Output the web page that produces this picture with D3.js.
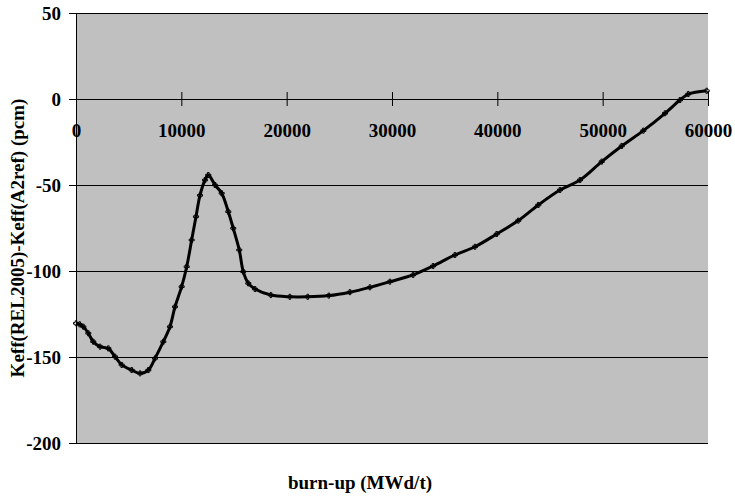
<!DOCTYPE html>
<html lang="en">
<head>
<meta charset="utf-8">
<title>Keff difference vs burn-up</title>
<style>
    body { margin: 0; background: #fff; }
    .tick text, .title { font-family: "Liberation Serif", "Times New Roman", serif; font-weight: bold; fill: #000; }
</style>
</head>
<body>
<script src="https://cdn.jsdelivr.net/npm/d3@7"></script>
<script>
    // burn-up (MWd/t) and difference (pcm)
    let burnup = [0, 350, 700, 1170, 1640, 2280, 3070, 3700, 4340, 5290, 6080, 6870, 7500, 8290, 8920,
        9400, 10030, 10510, 10980, 11390, 11770, 12250, 12560, 13200, 13830, 14460, 14930, 15500, 15880,
        16360, 17000, 18500, 20300, 22000, 24000, 26000, 27900, 29800, 32000, 33900, 35980, 37880, 39940,
        41990, 43890, 45950, 47850, 49910, 51810, 53860, 55920, 57340, 58130, 59880];
    let diffPcm = [-130.4, -131, -132.4, -136.2, -141.1, -144, -145, -149.8, -154.6, -157.6, -159.5, -157.6,
        -150.8, -141.1, -132.4, -120.8, -109.1, -97.5, -82, -68.4, -56, -47.1, -44.2, -50, -54.8, -65.5,
        -75.2, -87.8, -100.4, -107.2, -110.5, -114, -115, -115, -114.3, -112.3, -109.5, -106.2, -102.3,
        -97.1, -90.7, -85.9, -78.5, -70.7, -61.6, -52.9, -47.1, -36.4, -27.3, -18.4, -8.3, -0.6, 2.9, 4.8];
    let xTicks = [0, 10000, 20000, 30000, 40000, 50000, 60000];
    let yTicks = [50, 0, -50, -100, -150, -200];

    let margin = {top: 13, right: 27, bottom: 55, left: 76},
        width = 735, height = 498,
        innerW = width - margin.left - margin.right,
        innerH = height - margin.top - margin.bottom;

    let svg = d3.select("body").append("svg")
        .attr("width", width)
        .attr("height", height);

    let g = svg.append("g")
        .attr("transform", "translate(" + margin.left + "," + margin.top + ")");

    let x = d3.scaleLinear().domain([0, 60000]).range([0, innerW]);
    let y = d3.scaleLinear().domain([-200, 50]).range([innerH, 0]);

    // plot area
    g.append("rect")
        .attr("width", innerW)
        .attr("height", innerH)
        .attr("fill", "#c0c0c0");

    // y axis, plain hyphen for minus
    let yAxis = g.append("g")
        .call(d3.axisLeft(y).tickValues(yTicks).tickSize(7).tickPadding(8)
            .tickFormat(function(d) { return String(d); }));
    yAxis.select(".domain").attr("stroke", "#000");
    yAxis.selectAll(".tick line").attr("stroke", "#000");
    yAxis.selectAll(".tick text").style("font-size", "19px");

    // horizontal gridlines
    g.append("g").selectAll("line")
        .data(yTicks)
        .enter().append("line")
        .attr("x1", 0)
        .attr("x2", innerW)
        .attr("y1", function(d) { return y(d) + 0.5; })
        .attr("y2", function(d) { return y(d) + 0.5; })
        .attr("stroke", "#000")
        .attr("stroke-width", 1);

    // x axis sits at zero, ticks cross the line
    let xAxis = g.append("g")
        .attr("transform", "translate(0," + y(0) + ")")
        .call(d3.axisBottom(x).tickValues(xTicks).tickFormat(d3.format("d")).tickSize(0));
    xAxis.select(".domain").remove();
    xAxis.selectAll(".tick line")
        .attr("y1", -7).attr("y2", 7)
        .attr("stroke", "#000");
    xAxis.selectAll(".tick text")
        .attr("y", 38)
        .attr("dy", 0)
        .style("font-size", "19px");

    // curve
    let pts = burnup.map(function(d, i) { return [d, diffPcm[i]]; });

    let line = d3.line()
        .x(function(d) { return x(d[0]); })
        .y(function(d) { return y(d[1]); })
        .curve(d3.curveCatmullRom.alpha(0.5));

    g.append("path")
        .datum(pts)
        .attr("d", line)
        .attr("fill", "none")
        .attr("stroke", "#000")
        .attr("stroke-width", 3)
        .attr("stroke-linejoin", "round");

    g.append("g").selectAll("path")
        .data(pts)
        .enter().append("path")
        .attr("d", d3.symbol().type(d3.symbolCross).size(14))
        .attr("transform", function(d) { return "translate(" + x(d[0]) + "," + y(d[1]) + ")"; })
        .attr("fill", "none")
        .attr("stroke", "#000")
        .attr("stroke-width", 1);

    // titles
    svg.append("text")
        .attr("class", "title")
        .attr("x", 360)
        .attr("y", 489)
        .attr("text-anchor", "middle")
        .style("font-size", "19px")
        .text("burn-up (MWd/t)");

    svg.append("text")
        .attr("class", "title")
        .attr("transform", "translate(24,238) rotate(-90)")
        .attr("text-anchor", "middle")
        .style("font-size", "19px")
        .text("Keff(REL2005)-Keff(A2ref) (pcm)");
</script>
</body>
</html>
